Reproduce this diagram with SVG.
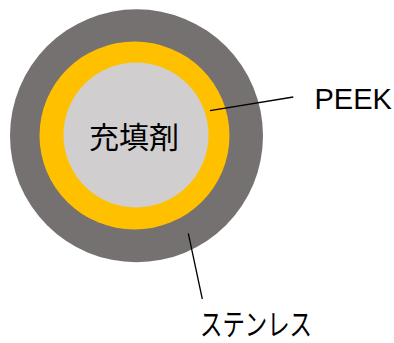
<svg xmlns="http://www.w3.org/2000/svg" width="394" height="343" viewBox="0 0 394 343">
<style>
.lbl{font-family:"Noto Sans CJK JP","Liberation Sans",sans-serif;font-size:30px;fill:#000}
.lat{font-family:"Liberation Sans","Noto Sans CJK JP",sans-serif;font-size:29px;fill:#000}
.ln{stroke:#000;stroke-width:1.3;fill:none}
</style>
<rect width="394" height="343" fill="#fff"/>
<g id="stainless">
<circle cx="136.5" cy="135.8" r="126.5" fill="#767171"/>
</g>
<g id="peek">
<ellipse cx="134.5" cy="135.5" rx="95" ry="94" fill="#FFC000"/>
</g>
<g id="filler">
<circle cx="136" cy="135" r="72.5" fill="#D0CECE"/>
<text class="lbl" x="134" y="148" text-anchor="middle" font-size="31">充填剤</text>
</g>
<g id="connectors">
<line class="ln" x1="210" y1="110.7" x2="293.3" y2="97"/>
<line class="ln" x1="188.3" y1="233.3" x2="202.3" y2="299"/>
</g>
<g id="label-peek">
<text class="lat" x="314.5" y="109.3">PEEK</text>
</g>
<g id="label-stainless">
<text class="lbl" x="200" y="334.5" font-size="28" textLength="112" lengthAdjust="spacingAndGlyphs">ステンレス</text>
</g>
</svg>
